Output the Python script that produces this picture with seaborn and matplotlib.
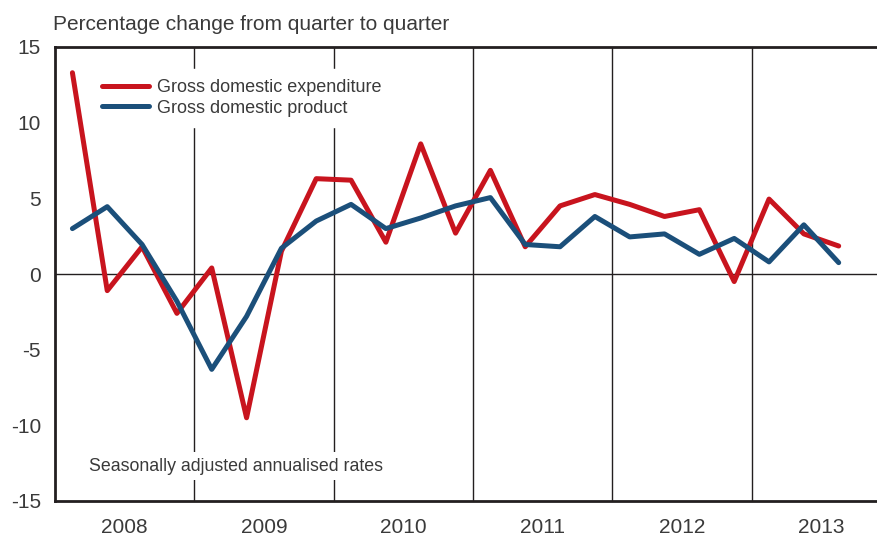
import pandas as pd
import matplotlib.pyplot as plt
import seaborn as sns

# Datos trimestrales 2008Q1 - 2013Q3 (tasas anualizadas)
quarters = [f"{y}Q{q}" for y in range(2008, 2014) for q in range(1, 5)][:23]
gde = [13.3, -1.1, 1.8, -2.6, 0.4, -9.5, 1.5, 6.3, 6.2, 2.1, 8.6, 2.7,
       6.85, 1.8, 4.5, 5.25, 4.6, 3.8, 4.25, -0.5, 4.95, 2.65, 1.85]
gdp = [3.0, 4.45, 1.95, -1.8, -6.3, -2.8, 1.7, 3.5, 4.6, 3.0, 3.7, 4.5,
       5.05, 1.95, 1.8, 3.8, 2.45, 2.65, 1.3, 2.35, 0.8, 3.25, 0.75]
years = ["2008", "2009", "2010", "2011", "2012", "2013"]
series_names = ["Gross domestic expenditure", "Gross domestic product"]

df = pd.DataFrame({
    "pos": list(range(len(quarters))) * 2,
    "value": gde + gdp,
    "series": [series_names[0]] * len(quarters) + [series_names[1]] * len(quarters),
})

sns.set_style("white")
plt.rcParams["font.family"] = ["Liberation Sans", "DejaVu Sans"]
plt.rcParams["axes.unicode_minus"] = False
ink = "#231f20"
txt = "#3a3a3a"

fig = plt.figure(figsize=(8.77, 5.35), dpi=100)
ax = fig.add_axes([55 / 877, 34 / 535, 1 - 55 / 877, (501 - 47) / 535])

# lineas verticales entre años y linea del cero
for i in range(1, len(years)):
    ax.axvline(i * 4 - 0.5, color=ink, lw=1, zorder=1)
ax.axhline(0, color=ink, lw=1, zorder=1)

sns.lineplot(data=df, x="pos", y="value", hue="series",
             palette={series_names[0]: "#c8141e", series_names[1]: "#1b4f7a"},
             linewidth=3.6, ax=ax, zorder=3)

ax.set_xlim(-0.5, 23.1)
ax.set_ylim(-15, 15)
ax.set_yticks(range(-15, 16, 5))
ax.set_xticks([i * 4 + 1.5 for i in range(len(years))])
ax.set_xticklabels(years)
ax.set_xlabel("")
ax.set_ylabel("")
ax.tick_params(axis="y", direction="in", length=14, width=2, color=ink,
               labelsize=15, labelcolor=txt, pad=10)
ax.tick_params(axis="x", length=0, labelsize=15, labelcolor=txt, pad=12)

for s in ["left", "top", "bottom"]:
    ax.spines[s].set_color(ink)
    ax.spines[s].set_linewidth(2)
ax.spines["right"].set_visible(False)

leg = ax.legend(loc="upper left", bbox_to_anchor=(0.045, 0.951), frameon=True,
                facecolor="white", edgecolor="white", framealpha=1,
                fontsize=13, handlelength=2.6, handletextpad=0.45,
                labelspacing=0.2, borderpad=0.55, borderaxespad=0)
for t in leg.get_texts():
    t.set_color(txt)
leg.set_zorder(5)

ax.text(0.48, -12.7, "Seasonally adjusted annualised rates", fontsize=12.8,
        color=txt, va="center", ha="left", zorder=4,
        bbox=dict(facecolor="white", edgecolor="none", pad=4))

fig.text(53 / 877, 1 - 25 / 535, "Percentage change from quarter to quarter",
         fontsize=15, color=txt, va="center", ha="left")

fig.savefig("out.png", dpi=100)
